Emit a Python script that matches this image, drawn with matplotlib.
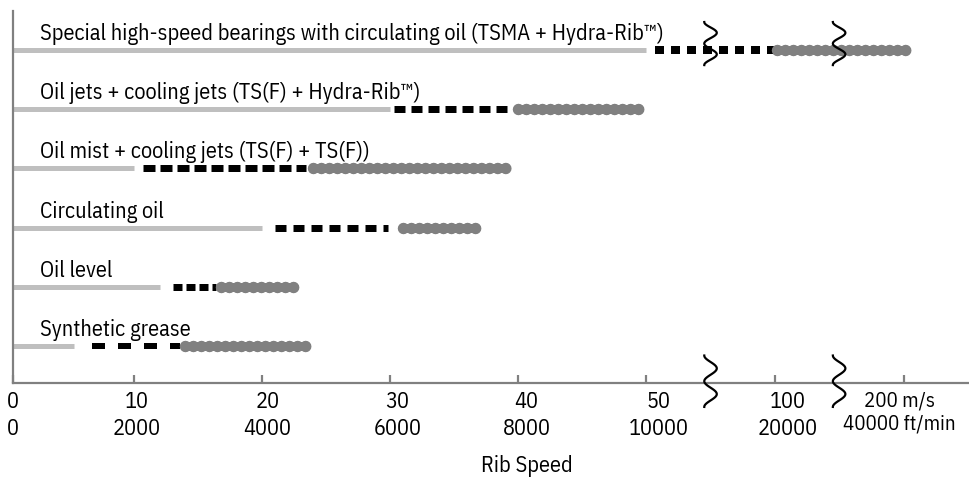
import numpy as np
import matplotlib
matplotlib.use("Agg")
import matplotlib.pyplot as plt
import matplotlib.transforms as mtransforms

plt.rcParams['font.family'] = ['IBM Plex Sans Condensed', 'DejaVu Sans']
plt.rcParams['lines.scale_dashes'] = False

# data, in m/s (top row first)
methods = ["Special high-speed bearings with circulating oil (TSMA + Hydra-Rib\u2122)",
           "Oil jets + cooling jets (TS(F) + Hydra-Rib\u2122)",
           "Oil mist + cooling jets (TS(F) + TS(F))",
           "Circulating oil",
           "Oil level",
           "Synthetic grease"]
gray_end = [50, 30, 10, 20, 12, 5]
dash_start = [53.5, 30.3, 10.7, 21, 13, 6.5]
dash_end = [100, 39.6, 23.4, 29.8, 16.4, 13.6]
dot_start = [101.5, 40, 24, 31, 16.8, 14]
dot_end = [207, 49.8, 39.5, 37, 23, 24]

tick_ms = [0, 10, 20, 30, 40, 50, 100, 200]
tick_ftmin = [0, 2000, 4000, 6000, 8000, 10000, 20000, 40000]
breaks_ms = [75, 150]

# broken axis: m/s -> position along axis
speed_knots = [0, 10, 50, 100, 200, 300]
pos_knots = [0, 121, 633, 761, 890, 1018]

def fwd(v):
    return np.interp(v, speed_knots, pos_knots)

def inv(p):
    return np.interp(p, pos_knots, speed_knots)

# per-row dash look (pixels)
dash_on = [9, 11, 12, 11, 9, 13]
dash_off = [7, 6, 5, 7, 4, 13]
dash_h = [8, 7, 7, 7, 7, 6]

PX = 0.72  # px -> pt at 100 dpi
FS = 16

fig = plt.figure(figsize=(9.69, 4.8), dpi=100)
ax = fig.add_axes([13/969, 97/480, 956/969, 372/480])
ax.set_xscale('function', functions=(fwd, inv))
ax.set_autoscale_on(False)
ax.set_xlim(0, 251)
ax.set_ylim(0.375, 6.66)

rows = np.arange(len(methods), 0, -1)

for i, y in enumerate(rows):
    ax.plot([0, gray_end[i]], [y, y], color='#bfbfbf', lw=5*PX, solid_capstyle='butt')
    ax.plot([dash_start[i], dash_end[i]], [y, y], color='black', lw=dash_h[i]*PX,
            dashes=(dash_on[i]*PX, dash_off[i]*PX), dash_capstyle='butt')
    ax.plot([dot_start[i], dot_end[i]], [y, y], color='#808080', lw=11.5*PX,
            dashes=(0.01, 8*PX), dash_capstyle='round', solid_capstyle='round')
    lab_tr = mtransforms.offset_copy(ax.get_yaxis_transform(), fig=fig, x=0, y=10*PX, units='points')
    ax.text(0.028, y, methods[i], transform=lab_tr, ha='left', va='baseline',
            fontsize=FS, color='black')

def squiggle(x, y, height, width):
    t = np.linspace(0, 1, 120)
    sx = -width/2*np.cos(2*np.pi*2*t)
    sy = height/2 - height*t
    tr = mtransforms.Affine2D().scale(fig.dpi/72) + mtransforms.ScaledTranslation(x, y, ax.transData)
    ax.plot(sx, sy, transform=tr, color='black', lw=1.6, clip_on=False, zorder=5)

for b in breaks_ms:
    squiggle(b, rows[0] + 0.11, 31, 9)
    squiggle(b, 0.375 + 0.03, 37, 9)

for side in ['top', 'right']:
    ax.spines[side].set_visible(False)
for side in ['left', 'bottom']:
    ax.spines[side].set_color('#808080')
    ax.spines[side].set_linewidth(1.6)

labels = [f"{m}\n{f}" for m, f in zip(tick_ms, tick_ftmin)]
labels[-1] = f"{tick_ms[-1]} m/s\n{tick_ftmin[-1]} ft/min"
ax.set_xticks(tick_ms, labels=labels)
ax.tick_params(axis='x', direction='in', length=6, width=1.6, color='#808080',
               pad=6, labelsize=FS)
ax.set_yticks([])
shift_px = [0, 3, 5, 7, 8, 12, 13, -4]
for lab, s in zip(ax.get_xticklabels(), shift_px):
    lab.set_linespacing(1.3)
    lab.set_transform(lab.get_transform() + mtransforms.ScaledTranslation(s*PX/72, 0, fig.dpi_scale_trans))
ax.get_xticklabels()[-1].set_fontsize(FS - 1)

ax.set_xlabel("Rib Speed", fontsize=FS, va='center')
ax.xaxis.set_label_coords((527-13)/956, -0.223)

fig.savefig("out.png", dpi=100)
